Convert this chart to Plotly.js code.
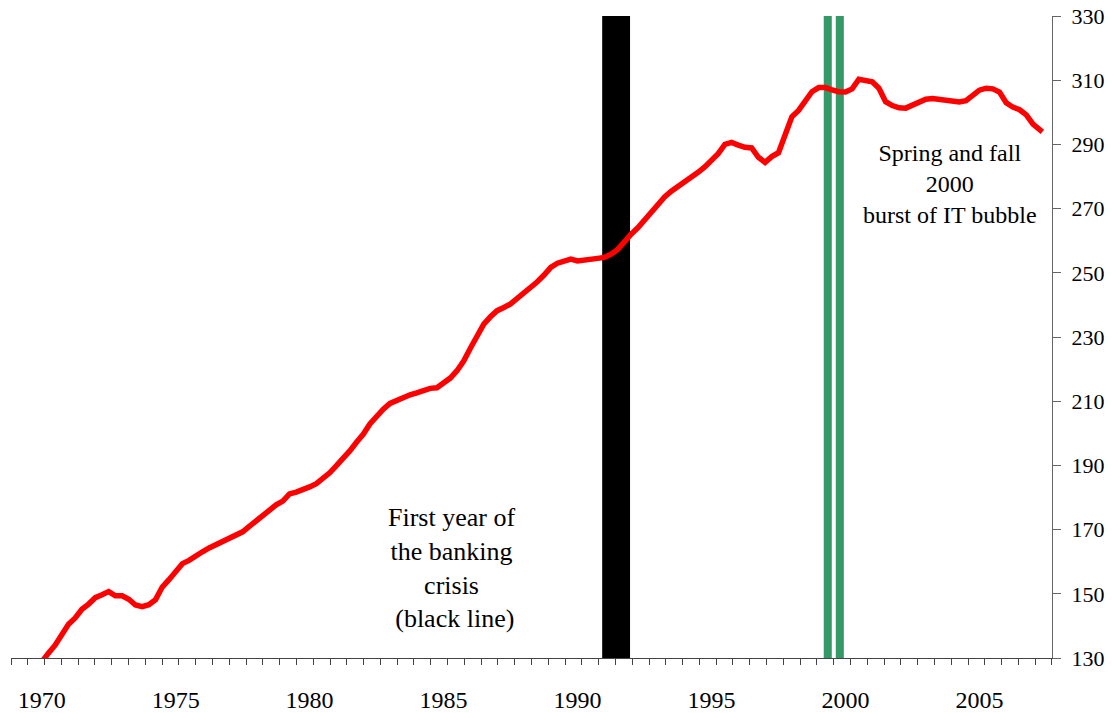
<!DOCTYPE html>
<html>
<head>
<meta charset="utf-8">
<script src="https://cdn.plot.ly/plotly-3.0.1.min.js"></script>
<style>html,body{margin:0;padding:0;background:#fff;}#chart{width:1112px;height:713px;}</style>
</head>
<body>
<div id="chart"></div>
<script>
// Quarterly time points (decimal years) and index values
var quarters = [
 1969.75,1970.00,1970.25,1970.50,1970.75,1971.00,1971.25,1971.50,1971.75,
 1972.00,1972.25,1972.50,1972.75,1973.00,1973.25,1973.50,1973.75,
 1974.00,1974.25,1974.50,1974.75,1975.00,1975.25,1975.50,1975.75,
 1976.00,1976.25,1976.50,1976.75,1977.00,1977.25,1977.50,1977.75,
 1978.00,1978.25,1978.50,1978.75,1979.00,1979.25,1979.50,1979.75,
 1980.00,1980.25,1980.50,1980.75,1981.00,1981.25,1981.50,1981.75,
 1982.00,1982.25,1982.50,1982.75,1983.00,1983.25,1983.50,1983.75,
 1984.00,1984.25,1984.50,1984.75,1985.00,1985.25,1985.50,1985.75,
 1986.00,1986.25,1986.50,1986.75,1987.00,1987.25,1987.50,1987.75,
 1988.00,1988.25,1988.50,1988.75,1989.00,1989.25,1989.50,1989.75,
 1990.00,1990.25,1990.50,1990.75,1991.00,1991.25,1991.50,1991.75,
 1992.00,1992.25,1992.50,1992.75,1993.00,1993.25,1993.50,1993.75,
 1994.00,1994.25,1994.50,1994.75,1995.00,1995.25,1995.50,1995.75,
 1996.00,1996.25,1996.50,1996.75,1997.00,1997.25,1997.50,1997.75,
 1998.00,1998.25,1998.50,1998.75,1999.00,1999.25,1999.50,1999.75,
 2000.00,2000.25,2000.50,2000.75,2001.00,2001.25,2001.50,2001.75,
 2002.00,2002.25,2002.50,2002.75,2003.00,2003.25,2003.50,2003.75,
 2004.00,2004.25,2004.50,2004.75,2005.00,2005.25,2005.50,2005.75,
 2006.00,2006.25,2006.50,2006.75,2007.00,2007.35
];
var values = [
 126.0,129.0,131.5,134.0,137.5,140.5,142.5,145.2,146.8,
 148.8,149.7,150.7,149.4,149.4,148.3,146.5,146.0,
 146.6,148.2,152.1,154.4,156.7,159.4,160.4,161.9,
 163.1,164.3,165.3,166.1,167.3,168.3,169.3,171.0,
 172.7,174.3,175.9,177.7,178.9,181.1,181.7,182.3,
 183.3,184.3,185.8,187.7,189.9,192.0,194.5,197.2,
 199.7,202.9,205.3,207.5,209.3,210.3,211.3,212.0,
 212.6,213.5,214.0,214.2,215.6,217.2,219.5,222.5,
 226.5,230.6,234.0,236.3,238.2,239.2,240.3,242.0,
 243.6,245.2,247.2,249.3,251.7,253.0,253.6,254.3,
 253.7,254.1,254.4,254.5,254.8,255.8,257.3,259.9,
 262.0,264.0,266.3,269.2,271.5,273.6,275.4,276.8,
 278.6,280.0,281.3,283.0,284.8,287.1,290.0,290.6,
 289.8,289.1,288.9,286.0,284.4,286.2,287.4,293.0,
 298.6,300.6,303.8,306.4,307.7,307.7,307.0,306.4,
 306.3,307.3,310.3,310.0,309.5,307.5,303.3,302.1,
 301.4,301.3,302.2,303.3,304.1,304.3,304.0,303.4,
 303.5,303.2,303.6,305.1,306.9,307.5,307.3,306.3,
 303.0,301.6,300.8,299.2,296.3,293.9
];
// Event bands (decimal years)
var crisisBand = [1990.92, 1991.96];
var bubbleBands = [[1999.19, 1999.49], [1999.64, 1999.94]];
// Axis ticks
var yearTicks = [1970, 1975, 1980, 1985, 1990, 1995, 2000, 2005];
var yearLabels = ['1970', '1975', '1980', '1985', '1990', '1995', '2000', '2005'];
var yTicks = [130, 150, 170, 190, 210, 230, 250, 270, 290, 310, 330];

var serif = "'Liberation Serif', serif";
var shapes = [{
  type: 'rect', xref: 'x', yref: 'paper', x0: crisisBand[0], x1: crisisBand[1], y0: 0, y1: 1,
  fillcolor: '#000000', line: {width: 0}, layer: 'below'
}];
bubbleBands.forEach(function (b) {
  shapes.push({type: 'rect', xref: 'x', yref: 'paper', x0: b[0], x1: b[1], y0: 0, y1: 1,
    fillcolor: '#339966', line: {width: 0}, layer: 'below'});
});

var trace = {
  x: quarters, y: values, type: 'scatter', mode: 'lines',
  line: {color: '#ff0000', width: 5.5}, hoverinfo: 'skip', cliponaxis: true
};

var layout = {
  width: 1112, height: 713,
  margin: {l: 11, r: 60, t: 16, b: 55},
  paper_bgcolor: '#ffffff', plot_bgcolor: '#ffffff',
  showlegend: false,
  font: {family: serif, size: 22, color: '#000'},
  xaxis: {
    range: [1968.854, 2007.71],
    tickmode: 'array', tickvals: yearTicks, ticktext: yearLabels,
    ticks: '', showgrid: false, zeroline: false,
    showline: true, linecolor: '#444', linewidth: 1,
    ticklabelstandoff: 20,
    tickfont: {family: serif, size: 24, color: '#000'},
    minor: {tickmode: 'linear', tick0: 1968.854, dtick: 0.6267, ticks: 'outside', ticklen: 6, tickcolor: '#444', showgrid: false}
  },
  yaxis: {
    side: 'right', range: [130, 330], tickmode: 'array', tickvals: yTicks,
    ticks: 'outside', ticklen: 8, tickcolor: '#666', showgrid: false, zeroline: false,
    showline: true, linecolor: '#666', linewidth: 1,
    ticklabelstandoff: 6,
    tickfont: {family: serif, size: 22, color: '#000'}
  },
  shapes: shapes,
  annotations: [
    {xref: 'x', yref: 'y', x: 1985.31, y: 158.0, xanchor: 'center', yanchor: 'middle', showarrow: false,
     align: 'center', text: 'First year of<br>the banking<br>crisis<br> (black line)', font: {family: serif, size: 26, color: '#000'}},
    {xref: 'x', yref: 'y', x: 2003.9, y: 277.6, xanchor: 'center', yanchor: 'middle', showarrow: false,
     align: 'center', text: 'Spring and fall<br>2000<br>burst of IT bubble', font: {family: serif, size: 24, color: '#000'}}
  ]
};

Plotly.newPlot('chart', [trace], layout, {staticPlot: true, displayModeBar: false});
</script>
</body>
</html>
